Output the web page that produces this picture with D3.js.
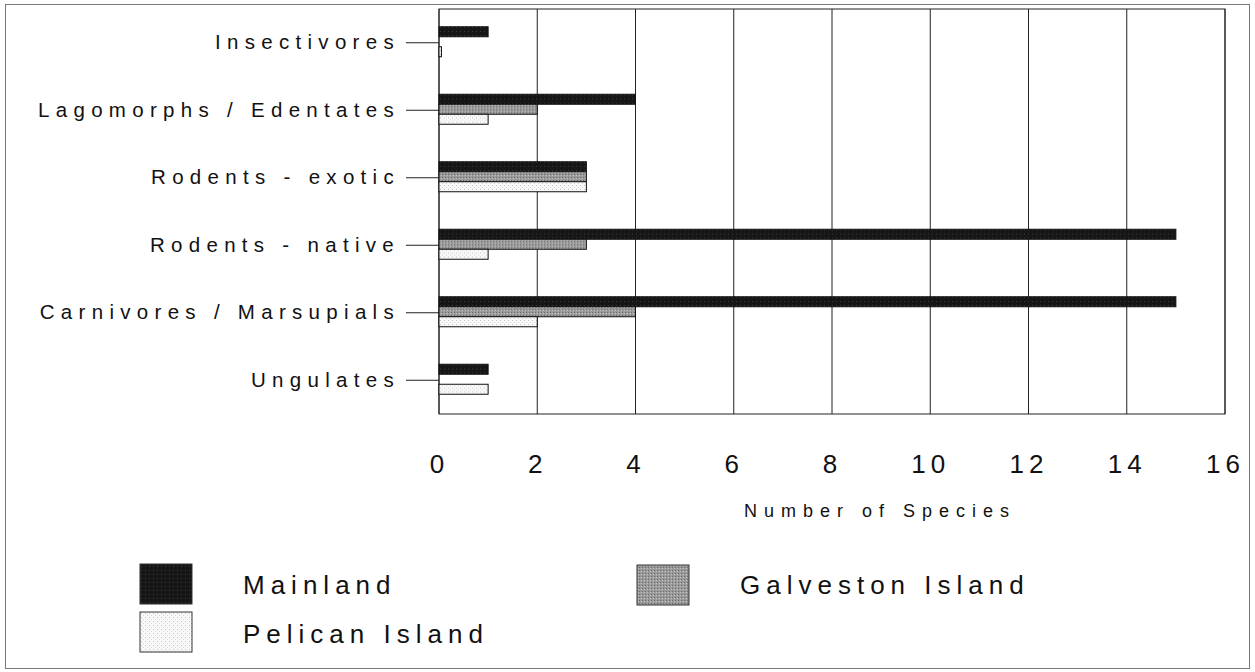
<!DOCTYPE html>
<html>
<head>
<meta charset="utf-8">
<script src="https://cdn.jsdelivr.net/npm/d3@7"></script>
<style>
  body { margin: 0; background: #fff; }
  text { font-family: "Liberation Sans", Arial, sans-serif; fill: #111; }
</style>
</head>
<body>
<div id="chart"></div>
<script>
// DATA ----------------------------------------------
const categories = [
  "Insectivores",
  "Lagomorphs / Edentates",
  "Rodents - exotic",
  "Rodents - native",
  "Carnivores / Marsupials",
  "Ungulates",
];
const seriesNames = ["Mainland", "Galveston Island", "Pelican Island"];
const mainland = [1, 4, 3, 15, 15, 1];
const galveston = [0, 2, 3, 3, 4, 0];
const pelican = [0.05, 1, 3, 1, 2, 1];
const xTicks = [0, 2, 4, 6, 8, 10, 12, 14, 16];

// CHART ---------------------------------------------
const W = 1255, H = 672;
const margin = { top: 9, right: 30, bottom: 258, left: 439 },
  width = W - margin.left - margin.right,
  height = H - margin.top - margin.bottom;

const svg = d3
  .select("#chart")
  .append("svg")
  .attr("width", W)
  .attr("height", H);

// textures
const defs = svg.append("defs");
const pMain = defs.append("pattern").attr("id", "pat-main")
  .attr("width", 4).attr("height", 4).attr("patternUnits", "userSpaceOnUse");
pMain.append("rect").attr("width", 4).attr("height", 4).attr("fill", "#161616");
pMain.append("rect").attr("x", 1).attr("y", 2).attr("width", 1).attr("height", 1).attr("fill", "#3a3a3a");
const pGal = defs.append("pattern").attr("id", "pat-gal")
  .attr("width", 3).attr("height", 3).attr("patternUnits", "userSpaceOnUse");
pGal.append("rect").attr("width", 3).attr("height", 3).attr("fill", "#9a9a9a");
pGal.append("rect").attr("x", 0).attr("y", 0).attr("width", 1).attr("height", 1).attr("fill", "#6a6a6a");
pGal.append("rect").attr("x", 2).attr("y", 1).attr("width", 1).attr("height", 1).attr("fill", "#c4c4c4");
const pPel = defs.append("pattern").attr("id", "pat-pel")
  .attr("width", 4).attr("height", 4).attr("patternUnits", "userSpaceOnUse");
pPel.append("rect").attr("width", 4).attr("height", 4).attr("fill", "#f8f8f8");
pPel.append("rect").attr("x", 1).attr("y", 1).attr("width", 1).attr("height", 1).attr("fill", "#c8c8c8");
pPel.append("rect").attr("x", 3).attr("y", 3).attr("width", 1).attr("height", 1).attr("fill", "#d6d6d6");
const fills = ["url(#pat-main)", "url(#pat-gal)", "url(#pat-pel)"];

// outer frame
svg.append("rect")
  .attr("x", 5.5).attr("y", 4.5)
  .attr("width", 1244).attr("height", 664)
  .attr("fill", "none").attr("stroke", "#777").attr("stroke-width", 1);

const g = svg.append("g")
  .attr("transform", "translate(" + margin.left + "," + margin.top + ")");

const x = d3.scaleLinear().domain([0, 16]).range([0, width]);
const y = d3.scaleBand().domain(categories).range([0, height]).padding(0);
const ySub = d3.scaleBand().domain(seriesNames)
  .range([y.bandwidth() / 2 - 16, y.bandwidth() / 2 + 14]).padding(0);

// gridlines
g.append("g")
  .selectAll("line")
  .data(xTicks)
  .enter()
  .append("line")
  .attr("x1", (d) => x(d)).attr("x2", (d) => x(d))
  .attr("y1", 0).attr("y2", height)
  .attr("stroke", "#222").attr("stroke-width", 1);

// plot border
g.append("rect")
  .attr("width", width).attr("height", height)
  .attr("fill", "none").attr("stroke", "#222").attr("stroke-width", 1);

// bars
const rows = categories.map((c, i) => ({
  cat: c,
  vals: [mainland[i], galveston[i], pelican[i]],
}));
const grp = g.selectAll(".grp").data(rows).enter().append("g")
  .attr("class", "grp")
  .attr("transform", (d) => "translate(0," + y(d.cat) + ")");
grp.selectAll("rect")
  .data((d) => d.vals.map((v, k) => ({ v: v, s: seriesNames[k], k: k })))
  .enter()
  .filter((d) => d.v > 0)
  .append("rect")
  .attr("x", x(0))
  .attr("y", (d) => ySub(d.s))
  .attr("width", (d) => x(d.v) - x(0))
  .attr("height", ySub.bandwidth())
  .attr("fill", (d) => fills[d.k])
  .attr("stroke", "#111")
  .attr("stroke-width", 1);

// y axis
const yAxis = g.append("g").call(d3.axisLeft(y).tickSize(33).tickPadding(6));
yAxis.select(".domain").remove();
yAxis.selectAll("line").attr("stroke", "#222");
yAxis.selectAll("text")
  .style("font-size", "20.5px")
  .attr("letter-spacing", "6.3px")
  .attr("dy", "0.32em");

// x axis labels
const xAxis = g.append("g")
  .attr("transform", "translate(0," + height + ")")
  .call(d3.axisBottom(x).tickValues(xTicks).tickSize(0).tickPadding(41));
xAxis.select(".domain").remove();
xAxis.selectAll("text")
  .style("font-size", "26px")
  .attr("letter-spacing", "5px");

g.append("text")
  .attr("x", 880 - margin.left)
  .attr("y", 517 - margin.top)
  .attr("text-anchor", "middle")
  .attr("letter-spacing", "7px")
  .style("font-size", "18px")
  .text("Number of Species");

// legend
const legendPos = [
  { sx: 140, sy: 564, tx: 243, ty: 594 },
  { sx: 637, sy: 565, tx: 740, ty: 594 },
  { sx: 140, sy: 612, tx: 243, ty: 643 },
];
const legend = svg.selectAll(".legend").data(seriesNames).enter().append("g")
  .attr("class", "legend");
legend.append("rect")
  .attr("x", (d, i) => legendPos[i].sx)
  .attr("y", (d, i) => legendPos[i].sy)
  .attr("width", 52).attr("height", 40)
  .attr("fill", (d, i) => fills[i])
  .attr("stroke", "#333").attr("stroke-width", 1);
legend.append("text")
  .attr("x", (d, i) => legendPos[i].tx)
  .attr("y", (d, i) => legendPos[i].ty)
  .attr("letter-spacing", "6px")
  .style("font-size", "26px")
  .text((d) => d);
</script>
</body>
</html>
